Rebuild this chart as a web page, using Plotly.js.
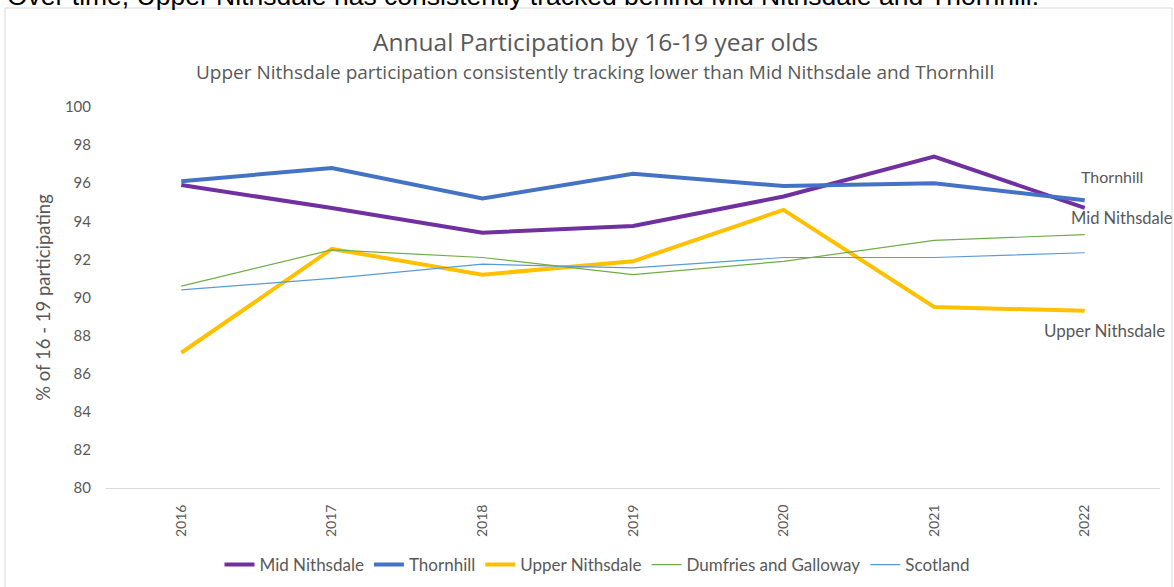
<!DOCTYPE html>
<html>
<head>
<meta charset="utf-8">
<script src="https://cdn.plot.ly/plotly-3.0.1.min.js"></script>
<style>html,body{margin:0;padding:0;background:#fff;}#chart{width:1174px;height:587px;}</style>
</head>
<body>
<div id="chart"></div>
<script>
const years = ['2016','2017','2018','2019','2020','2021','2022'];
const midNithsdale = [95.9, 94.7, 93.4, 93.75, 95.3, 97.4, 94.7];
const thornhill = [96.1, 96.8, 95.2, 96.5, 95.85, 96.0, 95.1];
const upperNithsdale = [87.1, 92.55, 91.2, 91.9, 94.6, 89.5, 89.3];
const dumfriesGalloway = [90.6, 92.5, 92.1, 91.2, 91.9, 93.0, 93.3];
const scotland = [90.4, 91.0, 91.75, 91.55, 92.1, 92.1, 92.35];
const yTicks = [80, 82, 84, 86, 88, 90, 92, 94, 96, 98, 100];

const FONT = 'Lato, "Open Sans", sans-serif';
const TFONT = '"Open Sans", Lato, sans-serif';
const GREY = '#595959';

const traces = [
  {name: 'Mid Nithsdale', y: midNithsdale, color: '#7030a0', width: 4},
  {name: 'Thornhill', y: thornhill, color: '#4472c4', width: 4},
  {name: 'Upper Nithsdale', y: upperNithsdale, color: '#ffc000', width: 4},
  {name: 'Dumfries and Galloway', y: dumfriesGalloway, color: '#70ad47', width: 1.2},
  {name: 'Scotland', y: scotland, color: '#5b9bd5', width: 1.2}
].map(s => ({
  type: 'scatter', mode: 'lines', name: s.name, x: years, y: s.y,
  line: {color: s.color, width: s.width}, hoverinfo: 'x+y+name'
}));

const px = p => (p - 106) / 1054;   // pixel x -> paper x
const py = p => (488 - p) / 381;    // pixel y -> paper y

const layout = {
  width: 1174, height: 587,
  margin: {l: 106, r: 14, t: 107, b: 99, autoexpand: false},
  paper_bgcolor: '#fff', plot_bgcolor: '#fff',
  font: {family: FONT, color: GREY, size: 15},
  showlegend: true,
  legend: {orientation: 'h', x: px(597), xanchor: 'center', y: py(565), yanchor: 'middle',
    font: {size: 17, color: GREY}, traceorder: 'normal'},
  xaxis: {type: 'category', range: [-0.5, 6.5], tickangle: -90, showgrid: false,
    showline: true, linecolor: '#d9d9d9', linewidth: 1, ticks: '', zeroline: false,
    ticklabelstandoff: 10, tickfont: {size: 14, color: GREY}, fixedrange: true},
  yaxis: {range: [80, 100], tickvals: yTicks, ticktext: yTicks.map(String), showgrid: false,
    showline: false, zeroline: false, ticks: '', ticklabelstandoff: 14,
    tickfont: {size: 15, color: GREY},
    title: {text: '% of 16 - 19 participating', font: {size: 18.5, color: GREY}, standoff: 9},
    fixedrange: true},
  annotations: [
    {xref: 'paper', yref: 'paper', x: px(595), y: py(42), xanchor: 'center', yanchor: 'middle',
     text: 'Annual Participation by 16-19 year olds', showarrow: false,
     font: {size: 24.5, color: GREY, family: TFONT}},
    {xref: 'paper', yref: 'paper', x: px(595), y: py(72), xanchor: 'center', yanchor: 'middle',
     text: 'Upper Nithsdale participation consistently tracking lower than Mid Nithsdale and Thornhill', showarrow: false,
     font: {size: 19, color: GREY, family: TFONT}},
    {xref: 'paper', yref: 'paper', x: px(1079), y: py(176), xanchor: 'left', yanchor: 'middle',
     text: 'Thornhill', showarrow: false, font: {size: 16, color: GREY}},
    {xref: 'paper', yref: 'paper', x: px(1069), y: py(218), xanchor: 'left', yanchor: 'middle',
     text: 'Mid Nithsdale', showarrow: false, font: {size: 16.5, color: GREY}},
    {xref: 'paper', yref: 'paper', x: px(1042), y: py(330), xanchor: 'left', yanchor: 'middle',
     text: 'Upper Nithsdale', showarrow: false, font: {size: 17, color: GREY}},
    {xref: 'paper', yref: 'paper', x: px(6), y: py(12), xanchor: 'left', yanchor: 'bottom',
     text: 'Over time, Upper Nithsdale has consistently tracked behind Mid Nithsdale and Thornhill.', showarrow: false,
     borderpad: 0, font: {size: 26.5, color: '#000', family: '"Liberation Sans", Arial, sans-serif'}}
  ],
  shapes: [
    {type: 'rect', xref: 'paper', yref: 'paper', x0: px(5), x1: px(1172),
     y0: py(620), y1: py(8), line: {color: '#d9d9d9', width: 1}, fillcolor: 'rgba(0,0,0,0)', layer: 'below'}
  ]
};

Plotly.newPlot('chart', traces, layout, {displayModeBar: false});
</script>
</body>
</html>
